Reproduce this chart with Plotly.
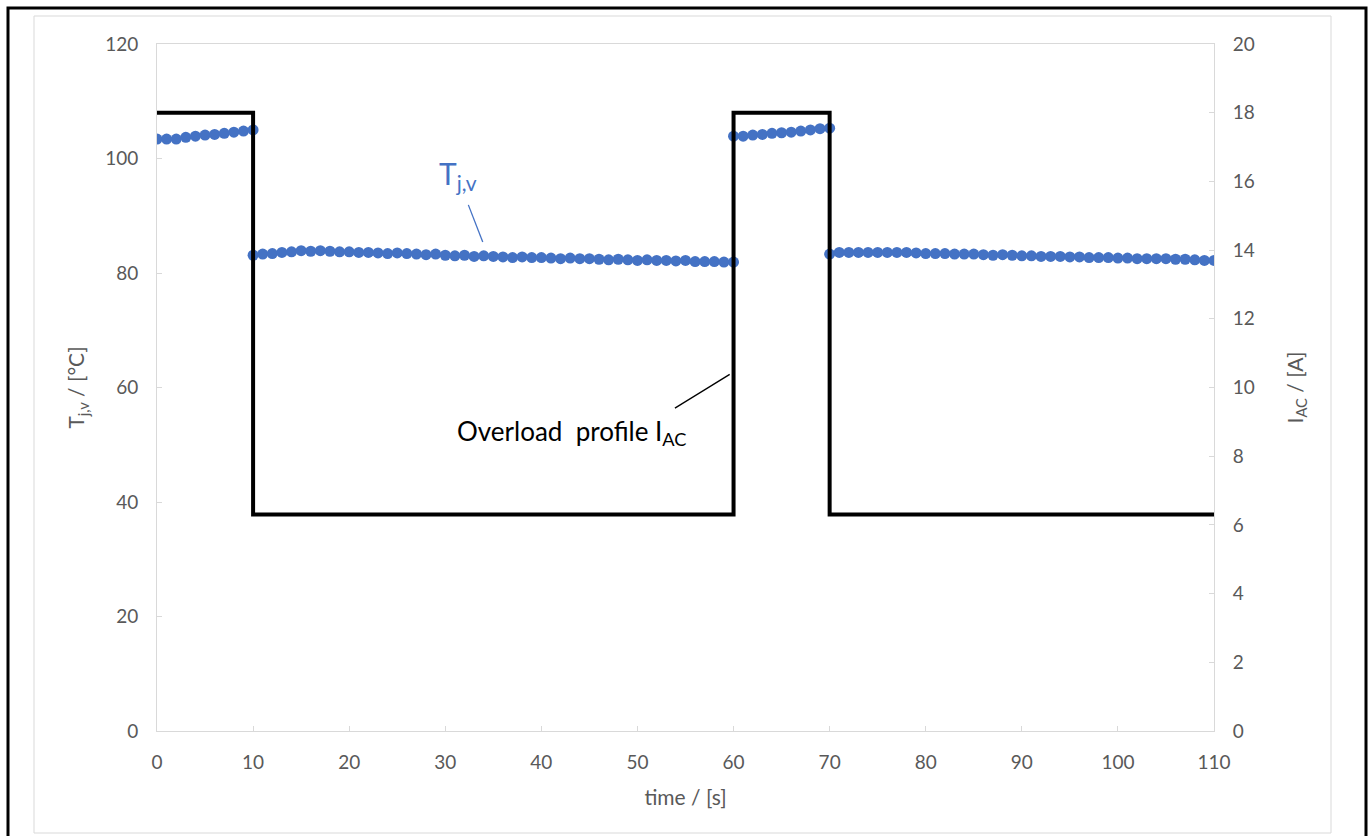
import plotly.graph_objects as go

# ---- data ----
t_seg1 = [0, 1, 2, 3, 4, 5, 6, 7, 8, 9, 10]
tj_seg1 = [103.4, 103.4, 103.4, 103.7, 103.9, 104.1, 104.2, 104.4, 104.6, 104.8, 105.0]

t_seg2 = list(range(10, 61))
tj_seg2 = [83.1, 83.3, 83.4, 83.6, 83.7, 83.9, 83.8, 83.9, 83.8, 83.7,
           83.7, 83.6, 83.6, 83.5, 83.4, 83.5, 83.4, 83.3, 83.2, 83.3,
           83.1, 83.0, 83.1, 82.9, 83.0, 82.9, 82.8, 82.7, 82.8, 82.7,
           82.7, 82.6, 82.5, 82.6, 82.5, 82.5, 82.4, 82.3, 82.4, 82.3,
           82.2, 82.3, 82.2, 82.2, 82.1, 82.2, 82.0, 82.0, 82.0, 81.9,
           81.9]

t_seg3 = [60, 61, 62, 63, 64, 65, 66, 67, 68, 69, 70]
tj_seg3 = [103.9, 103.9, 104.1, 104.2, 104.4, 104.5, 104.6, 104.8, 105.0, 105.2, 105.3]

t_seg4 = list(range(70, 111))
tj_seg4 = [83.3, 83.6, 83.6, 83.6, 83.6, 83.6, 83.6, 83.6, 83.6, 83.5,
           83.4, 83.4, 83.4, 83.3, 83.3, 83.3, 83.2, 83.1, 83.2, 83.1,
           83.0, 83.0, 82.9, 82.9, 82.9, 82.8, 82.8, 82.7, 82.7, 82.7,
           82.6, 82.6, 82.5, 82.5, 82.5, 82.5, 82.4, 82.4, 82.3, 82.2,
           82.2]

t_profile = [0, 10, 10, 60, 60, 70, 70, 110]
i_profile = [18, 18, 6.3, 6.3, 18, 18, 6.3, 6.3]

x_ticks = list(range(0, 111, 10))
y_ticks = list(range(0, 121, 20))
y2_ticks = list(range(0, 21, 2))

BLUE = "#4472C4"
GRAY = "#595959"
LGRAY = "#D9D9D9"
FONT = "Lato"

fig = go.Figure()

fig.add_trace(go.Scatter(
    x=t_profile, y=i_profile, yaxis="y2", mode="lines",
    line=dict(color="black", width=4), showlegend=False, name="I_AC"))

for tx, ty in [(t_seg1, tj_seg1), (t_seg2, tj_seg2), (t_seg3, tj_seg3), (t_seg4, tj_seg4)]:
    fig.add_trace(go.Scatter(
        x=tx, y=ty, mode="markers",
        marker=dict(color=BLUE, size=11, line=dict(width=0)),
        showlegend=False, name="Tj,v"))

W, H = 1372, 836
L, R, T, B = 157, 158, 44, 105
pw, ph = W - L - R, H - T - B

def px(x):
    return (x - L) / pw

def py(y):
    return (H - B - y) / ph

shapes = [
    # outer black frame
    dict(type="rect", xref="paper", yref="paper", x0=px(8), x1=px(1366), y0=py(845), y1=py(8),
         line=dict(color="black", width=3), layer="below"),
    # chart-area light frame
    dict(type="rect", xref="paper", yref="paper", x0=px(34), x1=px(1331), y0=py(833), y1=py(16),
         line=dict(color=LGRAY, width=1), layer="below"),
    # leader lines
    dict(type="line", xref="x", yref="y", x0=32.4, y0=91.9, x1=33.9, y1=85.4,
         line=dict(color=BLUE, width=1.3)),
    dict(type="line", xref="x", yref="y", x0=53.9, y0=56.4, x1=59.6, y1=62.3,
         line=dict(color="black", width=1.3)),
]

annotations = [
    dict(x=31.3, y=97.1, xref="x", yref="y", text="T<sub>j,v</sub>", showarrow=False,
         font=dict(family=FONT, size=30, color=BLUE)),
    dict(x=43.1, y=52.2, xref="x", yref="y", text="Overload  profile I<sub>AC</sub>", showarrow=False,
         font=dict(family=FONT, size=26, color="black")),
]

fig.update_layout(
    width=W, height=H,
    margin=dict(l=L, r=R, t=T, b=B, autoexpand=False),
    paper_bgcolor="white", plot_bgcolor="white",
    font=dict(family=FONT, size=19, color=GRAY),
    shapes=shapes, annotations=annotations,
    xaxis=dict(range=[0, 110], tickvals=x_ticks, showgrid=False, zeroline=False,
               showline=True, linecolor=LGRAY, linewidth=1, mirror=True,
               ticks="inside", ticklen=5, tickcolor=LGRAY, ticklabelstandoff=14,
               tickfont=dict(family=FONT, size=19, color=GRAY),
               title=dict(text="time / [s]", font=dict(family=FONT, size=21, color=GRAY), standoff=18)),
    yaxis=dict(range=[0, 120], tickvals=y_ticks, showgrid=False, zeroline=False,
               showline=True, linecolor=LGRAY, linewidth=1,
               ticks="inside", ticklen=5, tickcolor=LGRAY, ticklabelstandoff=14,
               tickfont=dict(family=FONT, size=19, color=GRAY),
               title=dict(text="T<sub>j,v</sub> / [°C]", font=dict(family=FONT, size=21, color=GRAY), standoff=14)),
    yaxis2=dict(range=[0, 20], tickvals=y2_ticks, overlaying="y", side="right",
                showgrid=False, zeroline=False, showline=True, linecolor=LGRAY, linewidth=1,
                ticks="inside", ticklen=5, tickcolor=LGRAY, ticklabelstandoff=14,
                tickfont=dict(family=FONT, size=19, color=GRAY),
                title=dict(text="I<sub>AC</sub> / [A]", font=dict(family=FONT, size=21, color=GRAY), standoff=34)),
)

fig.write_html("out.html", config={"displayModeBar": False},
               post_script="document.body.style.margin='0';")
